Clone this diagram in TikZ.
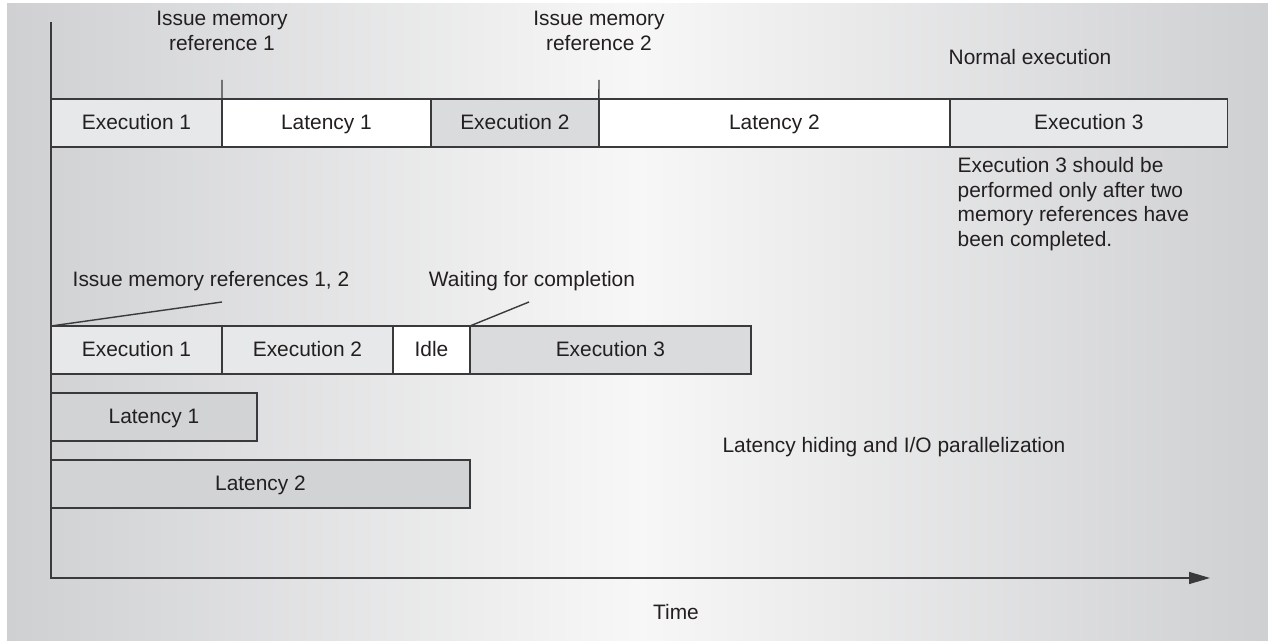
\documentclass[tikz,border=0pt]{standalone}
\usepackage{fontspec}
\setmainfont{Liberation Sans}
\usetikzlibrary{positioning,arrows.meta}

\definecolor{bgside}{HTML}{CFD0D2}
\definecolor{bgmid}{HTML}{F7F7F7}
\definecolor{inkline}{HTML}{3A3A3C}
\definecolor{inktext}{HTML}{231F20}
\definecolor{execlight}{HTML}{E7E8E9}
\definecolor{execmid}{HTML}{DADBDD}
\definecolor{latgray}{HTML}{D2D3D5}

\begin{document}
\begin{tikzpicture}[x=0.02cm, y=-0.02cm, line width=0.8pt,
    font=\fontsize{11.9}{13.9}\selectfont,
    slot/.style={draw=inkline, text=inktext, minimum height=0.96cm, inner sep=0pt, outer sep=0pt,
      text height=1.9ex, text depth=0.4ex},
    lbl/.style={text=inktext, inner sep=0pt},
    pin/.style={draw=inkline, line width=0.8pt}]

  % Background
  \useasboundingbox (0,0) rectangle (1268,641);
  \fill[white] (0,0) rectangle (1268,641);
  \shade[left color=bgside, right color=bgside, middle color=bgmid] (7,4) rectangle (1268,641);

  % Axes
  \coordinate (top) at (51,22);
  \coordinate (origin) at (51,578);
  \coordinate (tip) at (1210,578);
  \draw[inkline, -{Triangle[length=4.2mm, width=2.4mm]}] (top) -- (origin) -- (tip);
  \node[lbl] (time) at (676,612) {Time};

  % Normal execution
  \node[slot, fill=execlight, minimum width=3.42cm, anchor=north west] (n1) at (51,99) {Execution 1};
  \node[slot, fill=white, minimum width=4.18cm, right=0pt of n1] (n2) {Latency 1};
  \node[slot, fill=execmid, minimum width=3.36cm, right=0pt of n2] (n3) {Execution 2};
  \node[slot, fill=white, minimum width=7.02cm, right=0pt of n3] (n4) {Latency 2};
  \node[slot, fill=execlight, minimum width=5.56cm, right=0pt of n4] (n5) {Execution 3};

  \node[lbl, align=center] (iss1) at (222,31) {Issue memory\\reference 1};
  \node[lbl, align=center] (iss2) at (599,31) {Issue memory\\reference 2};
  \coordinate (t1) at (222,80);
  \coordinate (t2) at (599,80);
  \draw[pin] (n1.north east) -- (t1);
  \draw[pin] (n3.north east) -- (t2);

  \node[lbl] (normal) at (1030,57) {Normal execution};
  \node[lbl, align=left, anchor=north west] (note) at (957,157)
    {Execution 3 should be\\performed only after two\\memory references have\\been completed.};

  % Latency hiding
  \node[slot, fill=execlight, minimum width=3.42cm, anchor=north west] (m1) at (51,326) {Execution 1};
  \node[slot, fill=execlight, minimum width=3.42cm, right=0pt of m1] (m2) {Execution 2};
  \node[slot, fill=white, minimum width=1.54cm, right=0pt of m2] (m3) {Idle};
  \node[slot, fill=execmid, minimum width=5.62cm, right=0pt of m3] (m4) {Execution 3};

  \node[slot, fill=latgray, minimum width=4.12cm, anchor=north west] (l1) at (51,393) {Latency 1};
  \node[slot, fill=latgray, minimum width=8.38cm, anchor=north west] (l2) at (51,460) {Latency 2};

  \node[lbl] (issboth) at (211,281) {Issue memory references 1, 2};
  \node[lbl] (wait) at (532,281) {Waiting for completion};
  \coordinate (d1) at (222,302);
  \coordinate (d2) at (529,302);
  \draw[pin] (m1.north west) -- (d1);
  \draw[pin] (m3.north east) -- (d2);

  \node[lbl] (hiding) at (894,447) {Latency hiding and I/O parallelization};
\end{tikzpicture}
\end{document}
